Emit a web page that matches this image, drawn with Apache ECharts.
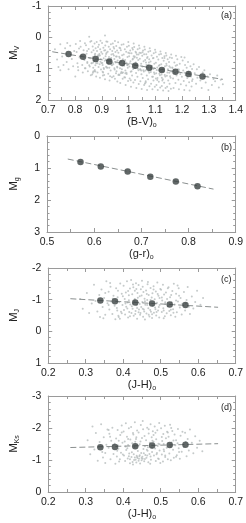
<!DOCTYPE html>
<html><head><meta charset="utf-8">
<script src="https://cdn.jsdelivr.net/npm/echarts@6/dist/echarts.min.js"></script>
<style>html,body{margin:0;padding:0;background:#fff}#c{width:246px;height:523px}</style>
</head><body><div id="c"></div>
<script>
// ---- data ----
const meanA_x = [0.776,0.830,0.877,0.928,0.976,1.025,1.077,1.124,1.175,1.224,1.276];
const meanA_y = [0.53,0.62,0.69,0.77,0.82,0.91,0.97,1.04,1.10,1.17,1.25];
const fitA = [[0.715,0.46],[1.352,1.34]];
const meanB_x = [0.571,0.614,0.671,0.719,0.773,0.819];
const meanB_y = [0.81,0.95,1.11,1.27,1.42,1.57];
const fitB = [[0.544,0.72],[0.853,1.66]];
const meanC_x = [0.339,0.378,0.432,0.477,0.524,0.566];
const meanC_y = [-0.97,-0.95,-0.91,-0.88,-0.85,-0.83];
const fitC = [[0.259,-1.03],[0.653,-0.76]];
const meanD_x = [0.339,0.378,0.432,0.477,0.524,0.566];
const meanD_y = [-1.40,-1.41,-1.43,-1.45,-1.47,-1.48];
const fitD = [[0.259,-1.39],[0.653,-1.51]];

const xTicksA = [0.7,1.4,0.1];
const yTicksA = [-1,2,1];
const xTicksB = [0.5,0.9,0.1];
const yTicksB = [0,3,1];
const xTicksC = [0.2,0.7,0.1];
const yTicksC = [-2,1,1];
const xTicksD = [0.2,0.7,0.1];
const yTicksD = [-3,0,1];

const cloudA = [
[0.725,0.38],[0.733,0.71],[0.738,0.95],[0.745,0.22],[0.752,0.61],[0.757,0.88],[0.763,0.35],[0.769,0.79],[0.776,1.02],[0.771,0.18],
[0.782,0.27],[0.788,0.69],[0.793,0.92],[0.797,0.44],[0.745,1.05],[0.801,1.25],[0.853,-0.02],[0.912,-0.06],
[0.803,0.21],[0.806,0.47],[0.809,0.83],[0.812,1.05],[0.815,0.36],[0.817,0.64],[0.819,0.12],[0.811,0.95],
[0.821,0.30],[0.824,0.58],[0.827,0.88],[0.829,1.12],[0.832,0.41],[0.835,0.72],[0.837,0.19],[0.839,0.99],
[0.841,0.25],[0.843,0.52],[0.846,0.79],[0.848,1.08],[0.851,0.37],[0.853,0.66],[0.855,0.93],[0.857,0.14],[0.859,1.21],[0.845,0.44],
[0.861,0.12],[0.862,0.48],[0.863,0.83],[0.864,1.19],[0.866,0.29],[0.867,0.63],[0.868,0.97],[0.869,0.41],[0.871,0.75],[0.872,1.08],[0.873,0.20],[0.874,0.56],[0.876,0.89],[0.877,0.35],[0.878,0.70],[0.879,1.25],[0.875,0.52],[0.868,0.80],
[0.881,0.15],[0.882,0.44],[0.883,0.78],[0.884,1.12],[0.886,0.31],[0.887,0.61],[0.888,0.95],[0.889,0.24],[0.891,0.53],[0.892,0.86],[0.893,1.29],[0.894,0.38],[0.896,0.69],[0.897,1.03],[0.898,0.47],[0.899,0.82],[0.885,0.58],[0.895,0.11],
[0.901,0.18],[0.902,0.52],[0.903,0.88],[0.904,1.22],[0.906,0.33],[0.907,0.67],[0.908,1.01],[0.909,0.42],[0.911,0.75],[0.912,1.34],[0.913,0.26],[0.914,0.60],[0.916,0.94],[0.917,0.13],[0.918,0.49],[0.919,0.81],[0.905,1.12],[0.915,0.71],
[0.921,0.14],[0.922,0.46],[0.923,0.79],[0.924,1.16],[0.926,0.30],[0.927,0.63],[0.928,0.97],[0.929,1.38],[0.931,0.38],[0.932,0.71],[0.933,1.06],[0.934,0.22],[0.936,0.55],[0.937,0.88],[0.938,1.27],[0.939,0.44],[0.925,0.84],[0.935,0.66],
[0.941,0.20],[0.942,0.53],[0.943,0.86],[0.944,1.24],[0.946,0.36],[0.947,0.69],[0.948,1.03],[0.949,0.12],[0.951,0.47],[0.952,0.80],[0.953,1.15],[0.954,0.28],[0.956,0.61],[0.957,0.94],[0.958,1.41],[0.959,0.74],[0.945,0.58],[0.955,1.08],
[0.961,0.16],[0.962,0.49],[0.963,0.84],[0.964,1.19],[0.966,0.33],[0.967,0.66],[0.968,0.99],[0.969,1.46],[0.971,0.41],[0.972,0.77],[0.973,1.11],[0.974,0.24],[0.976,0.57],[0.977,0.91],[0.978,1.32],[0.979,0.70],[0.965,0.62],[0.975,1.02],
[0.981,0.22],[0.982,0.55],[0.983,0.89],[0.984,1.27],[0.986,0.38],[0.987,0.72],[0.988,1.06],[0.989,1.52],[0.991,0.46],[0.992,0.81],[0.993,1.17],[0.994,0.30],[0.996,0.63],[0.997,0.97],[0.998,1.39],[0.999,0.15],[0.985,0.78],[0.995,0.88],
[1.001,0.27],[1.002,0.60],[1.003,0.93],[1.004,1.31],[1.006,0.42],[1.007,0.76],[1.008,1.10],[1.009,1.58],[1.011,0.51],[1.012,0.85],[1.013,1.22],[1.014,0.34],[1.016,0.68],[1.017,1.01],[1.018,1.44],[1.019,0.20],[1.005,0.83],[1.015,0.95],
[1.021,0.31],[1.022,0.64],[1.023,0.98],[1.024,1.36],[1.026,0.46],[1.027,0.80],[1.028,1.14],[1.029,1.62],[1.031,0.55],[1.032,0.89],[1.033,1.26],[1.034,0.38],[1.036,0.72],[1.037,1.05],[1.038,1.49],[1.039,0.26],[1.025,0.88],[1.035,1.00],
[1.041,0.35],[1.042,0.68],[1.043,1.02],[1.044,1.40],[1.046,0.50],[1.047,0.84],[1.048,1.18],[1.049,1.65],[1.051,0.59],[1.052,0.93],[1.053,1.30],[1.054,0.42],[1.056,0.76],[1.057,1.09],[1.058,1.52],[1.059,0.30],[1.045,0.91],[1.055,1.05],
[1.061,0.39],[1.062,0.72],[1.063,1.06],[1.064,1.44],[1.066,0.54],[1.067,0.88],[1.068,1.22],[1.069,1.68],[1.071,0.63],[1.072,0.97],[1.073,1.34],[1.074,0.46],[1.076,0.80],[1.077,1.13],[1.078,1.56],[1.079,0.35],[1.065,0.95],[1.075,1.08],
[1.081,0.44],[1.082,0.77],[1.083,1.11],[1.084,1.48],[1.086,0.58],[1.087,0.92],[1.088,1.26],[1.089,1.66],[1.091,0.67],[1.092,1.01],[1.093,1.38],[1.094,0.51],[1.096,0.84],[1.097,1.17],[1.098,1.58],[1.099,0.40],[1.085,1.00],[1.095,1.12],
[1.101,0.48],[1.102,0.81],[1.103,1.15],[1.104,1.52],[1.106,0.62],[1.107,0.96],[1.108,1.30],[1.109,1.68],[1.111,0.71],[1.112,1.05],[1.113,1.42],[1.114,0.55],[1.116,0.88],[1.117,1.21],[1.118,1.60],[1.119,0.45],[1.105,1.04],[1.115,1.16],
[1.121,0.53],[1.122,0.86],[1.123,1.19],[1.124,1.55],[1.126,0.66],[1.127,1.00],[1.128,1.34],[1.129,1.70],[1.131,0.75],[1.132,1.09],[1.133,1.45],[1.134,0.60],[1.136,0.92],[1.137,1.25],[1.138,1.62],[1.139,0.50],[1.125,1.08],[1.135,1.20],
[1.141,0.58],[1.142,0.90],[1.143,1.23],[1.144,1.58],[1.146,0.70],[1.147,1.04],[1.148,1.38],[1.149,1.71],[1.151,0.79],[1.152,1.13],[1.153,1.48],[1.154,0.64],[1.156,0.96],[1.157,1.29],[1.158,1.64],[1.159,0.55],[1.145,1.12],[1.155,1.24],
[1.162,0.66],[1.164,0.98],[1.166,1.31],[1.168,1.62],[1.171,0.80],[1.173,1.13],[1.175,1.46],[1.177,0.59],[1.179,1.22],[1.169,1.05],
[1.182,0.70],[1.184,1.02],[1.186,1.35],[1.188,1.66],[1.191,0.84],[1.193,1.17],[1.195,1.50],[1.197,0.63],[1.199,1.26],[1.189,1.09],
[1.202,0.74],[1.204,1.06],[1.206,1.39],[1.208,1.68],[1.211,0.88],[1.213,1.21],[1.215,1.54],[1.217,0.97],[1.219,1.30],[1.209,1.13],
[1.222,0.79],[1.224,1.10],[1.226,1.43],[1.228,1.70],[1.231,0.92],[1.233,1.25],[1.235,1.57],[1.237,1.01],[1.239,1.34],[1.229,1.18],
[1.243,0.86],[1.247,1.15],[1.252,1.48],[1.257,1.29],[1.255,1.02],[1.263,0.95],[1.268,1.38],[1.273,1.62],[1.277,1.12],
[1.283,1.05],[1.288,1.44],[1.294,1.25],[1.298,1.68],[1.304,1.18],[1.311,1.52],[1.317,1.33],[1.323,1.40],[1.331,1.22],[1.337,1.60],[1.344,1.35],[1.352,1.50],
[0.913,0.41],[1.047,1.06],[0.868,1.09],[1.132,0.99],[0.992,1.13],[0.944,0.31],[1.083,1.04],[0.837,0.99],[1.176,0.91],[1.011,1.08],
[0.957,0.42],[1.064,1.40],[0.889,0.57],[1.118,1.06],[0.976,1.14],[1.031,0.65],[0.902,0.82],[1.209,0.64],[0.853,0.89],[1.097,0.99],
[0.931,1.24],[1.152,0.92],[0.879,0.83],[1.004,0.51],[0.966,1.20],[1.073,0.89],[0.918,0.96],[1.041,0.49],[0.983,0.91],[1.126,1.38],
[0.861,0.83],[1.023,0.61],[0.949,1.32],[1.188,1.03],[0.907,0.98],[1.058,0.54],[0.996,0.89],[0.874,1.04],[1.141,0.84],[0.938,0.89],
[1.016,0.39],[1.102,1.31],[0.925,0.71],[0.987,1.28],[1.069,0.66],[0.846,0.82],[1.163,0.96],[0.962,1.20],[1.037,0.55],[0.895,0.78],
[1.091,1.26],[0.953,0.61],[1.008,1.37],[1.224,1.16],[0.884,0.83],[1.052,0.48],[0.971,1.15],[1.113,0.91],[0.921,0.97],[1.077,0.70],
[0.934,0.85],[1.093,0.66],[0.867,1.13],[1.015,0.71],[0.979,1.12],[1.147,1.02],[0.903,1.10],[1.028,0.49],[0.958,0.96],[1.181,0.88],
[0.941,0.82],[1.061,1.47],[0.893,0.58],[1.124,1.29],[0.999,0.49],[1.044,1.03],[0.916,0.53],[1.107,1.36],[0.969,0.35],[1.237,1.39],
[1.086,0.91],[0.876,1.09],[1.019,0.60],[0.947,0.99],[1.159,1.09],[0.988,1.15],[1.065,0.80],[0.909,1.20],[1.134,0.66],[0.857,0.67]
];

const cloudC = [
[0.285,-1.02],[0.292,-0.71],[0.303,-1.21],[0.309,-0.58],[0.316,-0.88],
[0.322,-1.47],[0.326,-0.96],[0.331,-0.63],[0.336,-1.15],[0.338,-0.45],
[0.342,-1.32],[0.345,-0.77],[0.349,-1.05],[0.352,-0.52],[0.355,-1.58],[0.358,-0.89],[0.347,-0.41],
[0.361,-1.25],[0.363,-0.69],[0.366,-1.41],[0.368,-0.94],[0.371,-0.55],[0.374,-1.12],[0.377,-0.81],[0.379,-0.38],[0.365,-1.53],
[0.381,-1.36],[0.383,-0.74],[0.385,-1.08],[0.387,-0.49],[0.389,-0.92],[0.392,-1.51],[0.394,-0.62],[0.396,-1.19],[0.398,-0.83],[0.391,-0.40],[0.386,-1.28],
[0.401,-1.44],[0.402,-0.67],[0.404,-1.02],[0.405,-0.53],[0.407,-1.23],[0.408,-0.78],[0.410,-1.58],[0.412,-0.91],[0.413,-0.44],[0.415,-1.14],[0.416,-0.61],[0.418,-1.35],[0.419,-0.85],[0.411,-0.72],
[0.421,-1.62],[0.422,-0.58],[0.424,-1.17],[0.425,-0.71],[0.427,-1.39],[0.428,-0.49],[0.430,-0.95],[0.431,-1.28],[0.433,-0.64],[0.434,-1.52],[0.436,-0.82],[0.437,-0.40],[0.439,-1.06],[0.426,-0.88],[0.432,-0.55],[0.438,-1.21],
[0.441,-1.46],[0.442,-0.69],[0.444,-1.11],[0.445,-0.52],[0.447,-1.33],[0.448,-0.77],[0.450,-1.60],[0.451,-0.93],[0.453,-0.46],[0.454,-1.24],[0.456,-0.63],[0.457,-1.03],[0.459,-0.84],[0.446,-0.58],[0.452,-1.41],[0.458,-0.37],
[0.461,-1.29],[0.462,-0.56],[0.464,-0.99],[0.465,-1.49],[0.467,-0.73],[0.468,-1.15],[0.470,-0.47],[0.471,-0.88],[0.473,-1.37],[0.474,-0.62],[0.476,-1.07],[0.477,-0.42],[0.479,-0.81],[0.466,-1.56],[0.472,-0.67],[0.478,-1.20],
[0.481,-1.42],[0.482,-0.59],[0.484,-1.01],[0.485,-0.75],[0.487,-1.26],[0.488,-0.50],[0.490,-0.90],[0.491,-1.54],[0.493,-0.66],[0.494,-1.12],[0.496,-0.44],[0.497,-0.83],[0.499,-1.34],[0.486,-0.70],[0.492,-1.18],
[0.501,-1.31],[0.503,-0.61],[0.504,-0.97],[0.506,-1.47],[0.507,-0.73],[0.509,-1.16],[0.511,-0.48],[0.512,-0.86],[0.514,-1.23],[0.516,-0.57],[0.517,-1.02],[0.519,-0.79],[0.508,-0.41],
[0.521,-1.39],[0.523,-0.64],[0.525,-1.08],[0.527,-0.51],[0.529,-0.92],[0.531,-1.27],[0.533,-0.70],[0.535,-1.50],[0.537,-0.85],[0.539,-0.46],[0.528,-1.15],
[0.541,-1.19],[0.543,-0.60],[0.546,-0.94],[0.548,-1.36],[0.551,-0.75],[0.553,-1.05],[0.556,-0.53],[0.558,-0.87],[0.545,-1.45],
[0.562,-1.24],[0.565,-0.66],[0.569,-0.99],[0.572,-1.40],[0.575,-0.78],[0.578,-0.55],
[0.583,-1.10],[0.587,-0.72],[0.592,-0.93],[0.597,-1.28],[0.606,-0.84],[0.613,-1.05],
[0.437,-0.74],[0.372,-1.03],[0.489,-0.61],[0.413,-1.27],[0.458,-0.95],[0.527,-0.68],[0.396,-0.57],[0.463,-1.18],[0.352,-1.21],[0.503,-1.07],
[0.444,-0.86],[0.418,-0.48],[0.481,-1.32],[0.549,-1.12],[0.431,-1.02],[0.468,-0.52],[0.384,-0.66],[0.512,-0.92],[0.426,-1.48],[0.495,-0.77],
[0.449,-1.13],[0.406,-0.88],[0.473,-0.99],[0.534,-0.59],[0.361,-0.83],[0.455,-0.69],[0.519,-1.36],[0.441,-0.60],[0.399,-1.11],[0.477,-0.54],
[0.567,-0.88],[0.423,-0.79],[0.508,-0.66],[0.464,-0.83],[0.435,-1.34],[0.388,-0.45],[0.497,-1.05],[0.452,-0.71],[0.541,-0.97],[0.415,-0.98]
];

const cloudD = [
[0.305,-1.62],[0.312,-1.18],[0.318,-2.05],[0.323,-1.33],[0.327,-1.84],[0.332,-0.98],[0.337,-1.56],
[0.341,-2.12],[0.344,-1.25],[0.348,-1.71],[0.352,-0.91],[0.355,-1.48],[0.358,-1.95],[0.346,-1.08],
[0.361,-1.38],[0.363,-1.82],[0.366,-1.02],[0.368,-1.60],[0.371,-2.01],[0.374,-1.19],[0.377,-1.51],[0.379,-0.88],[0.365,-1.73],
[0.381,-1.67],[0.383,-1.11],[0.385,-1.94],[0.387,-1.35],[0.389,-0.95],[0.392,-1.78],[0.394,-1.23],[0.396,-2.08],[0.398,-1.54],[0.391,-1.02],[0.386,-1.45],
[0.401,-1.89],[0.402,-1.14],[0.404,-1.58],[0.405,-0.97],[0.407,-2.15],[0.408,-1.31],[0.410,-1.73],[0.412,-1.05],[0.413,-1.47],[0.415,-1.99],[0.416,-1.20],[0.418,-0.90],[0.419,-1.64],[0.411,-1.37],
[0.421,-2.03],[0.422,-1.09],[0.424,-1.52],[0.425,-0.94],[0.427,-1.80],[0.428,-1.18],[0.430,-1.41],[0.431,-2.18],[0.433,-1.01],[0.434,-1.66],[0.436,-1.13],[0.437,-1.92],[0.439,-1.28],[0.426,-0.86],[0.432,-1.57],[0.438,-1.06],[0.429,-1.00],[0.435,-0.92],
[0.441,-1.86],[0.442,-1.04],[0.444,-1.49],[0.445,-0.89],[0.447,-2.09],[0.448,-1.22],[0.450,-1.69],[0.451,-1.10],[0.453,-1.96],[0.454,-1.34],[0.456,-0.96],[0.457,-1.75],[0.459,-1.16],[0.446,-1.58],[0.452,-2.22],[0.458,-1.43],[0.443,-1.12],[0.449,-0.99],
[0.461,-1.62],[0.462,-1.07],[0.464,-2.01],[0.465,-1.29],[0.467,-0.93],[0.468,-1.83],[0.470,-1.19],[0.471,-1.54],[0.473,-2.12],[0.474,-1.01],[0.476,-1.71],[0.477,-1.25],[0.479,-1.90],[0.466,-1.40],[0.472,-0.88],[0.478,-1.60],
[0.481,-1.78],[0.482,-1.14],[0.484,-2.05],[0.485,-1.36],[0.487,-0.97],[0.488,-1.65],[0.490,-1.22],[0.491,-1.93],[0.493,-1.05],[0.494,-1.51],[0.496,-2.16],[0.497,-1.30],[0.499,-0.91],[0.486,-1.85],[0.492,-1.44],
[0.501,-1.99],[0.503,-1.17],[0.504,-1.59],[0.506,-0.95],[0.507,-1.81],[0.509,-1.27],[0.511,-2.07],[0.512,-1.09],[0.514,-1.68],[0.516,-1.38],[0.517,-1.88],[0.519,-1.02],[0.508,-1.50],
[0.521,-1.73],[0.523,-1.20],[0.525,-2.10],[0.527,-0.99],[0.529,-1.55],[0.531,-1.91],[0.533,-1.32],[0.535,-1.07],[0.537,-1.80],[0.539,-1.46],[0.528,-2.00],
[0.541,-1.62],[0.543,-1.15],[0.546,-1.97],[0.548,-1.37],[0.551,-1.04],[0.553,-1.76],[0.556,-1.26],[0.558,-1.88],[0.545,-1.52],
[0.562,-1.41],[0.565,-1.85],[0.569,-1.12],[0.572,-1.66],[0.575,-1.30],[0.578,-1.95],
[0.583,-1.54],[0.587,-1.21],[0.592,-1.74],[0.597,-1.38],[0.604,-1.60],[0.611,-1.27],
[0.437,-1.09],[0.372,-1.47],[0.489,-1.18],[0.413,-1.66],[0.458,-1.03],[0.527,-1.41],[0.396,-1.86],[0.463,-1.32],[0.352,-1.22],[0.503,-1.72],
[0.444,-1.15],[0.418,-1.02],[0.481,-1.57],[0.549,-1.25],[0.431,-1.08],[0.468,-1.96],[0.384,-1.29],[0.512,-1.14],[0.426,-1.84],[0.495,-1.03],
[0.449,-1.06],[0.406,-1.42],[0.473,-1.11],[0.534,-1.61],[0.361,-1.94],[0.455,-1.21],[0.519,-1.86],[0.441,-0.98],[0.399,-1.17],[0.477,-1.38],
[0.567,-1.56],[0.423,-1.24],[0.508,-1.33],[0.464,-1.14],[0.435,-1.71],[0.388,-1.60],[0.497,-1.49],[0.452,-1.04],[0.541,-1.10],[0.415,-1.12]
];

// ---- chart ----
const FONT = 'Liberation Sans, Arial, sans-serif';
const panels = [
  {top:6,  h:94, xt:xTicksA, yt:yTicksA, yName:['M','V'], xName:'(B-V)', cloud:cloudA, mx:meanA_x, my:meanA_y, fit:fitA, tag:'(a)'},
  {top:136,h:96, xt:xTicksB, yt:yTicksB, yName:['M','g'], xName:'(g-r)', cloud:null,   mx:meanB_x, my:meanB_y, fit:fitB, tag:'(b)'},
  {top:268,h:95, xt:xTicksC, yt:yTicksC, yName:['M','J'], xName:'(J-H)', cloud:cloudC, mx:meanC_x, my:meanC_y, fit:fitC, tag:'(c)'},
  {top:396,h:96, xt:xTicksD, yt:yTicksD, yName:['M','Ks'], xName:'(J-H)', cloud:cloudD, mx:meanD_x, my:meanD_y, fit:fitD, tag:'(d)'}
];
const LEFT = 34, W = 203;
const frame = {show:true, onZero:false, lineStyle:{color:'#9a9a9a', width:1}};
const grid=[], xAxis=[], yAxis=[], series=[], graphic=[];
panels.forEach((p,i)=>{
  grid.push({left:LEFT, top:p.top, width:W, height:p.h});
  const xb = {gridIndex:i, type:'value', min:p.xt[0], max:p.xt[1], interval:p.xt[2], axisLine:frame,
    splitLine:{show:false}, axisTick:{inside:true, length:4, lineStyle:{color:'#9a9a9a'}},
    minorTick:{show:true, splitNumber:2, length:3, lineStyle:{color:'#9a9a9a'}}};
  xAxis.push(Object.assign({}, xb, {position:'bottom',
    axisLabel:{color:'#222', fontSize:10.5, fontFamily:FONT, margin:5},
    name:'{m|'+p.xName+'}{s|o}', nameLocation:'middle', nameGap:15,
    nameTextStyle:{color:'#222', fontFamily:FONT, rich:{m:{fontSize:11, fontFamily:FONT, color:'#222', lineHeight:13}, s:{fontSize:7, fontFamily:FONT, color:'#222', lineHeight:13, verticalAlign:'bottom', padding:[4,0,0,0]}}}}));
  xAxis.push(Object.assign({}, xb, {position:'top', axisLabel:{show:false}}));
  const yb = {gridIndex:i, type:'value', inverse:true, min:p.yt[0], max:p.yt[1], interval:p.yt[2], axisLine:frame,
    splitLine:{show:false}, axisTick:{inside:true, length:4, lineStyle:{color:'#9a9a9a'}},
    minorTick:{show:true, splitNumber:5, length:2.5, lineStyle:{color:'#9a9a9a'}}};
  yAxis.push(Object.assign({}, yb, {position:'left',
    axisLabel:{color:'#222', fontSize:10.5, fontFamily:FONT, margin:7},
    name:'{m|'+p.yName[0]+'}{s|'+p.yName[1]+'}', nameLocation:'middle', nameGap:26, nameRotate:90,
    nameTextStyle:{color:'#222', fontFamily:FONT, rich:{m:{fontSize:11.5, fontFamily:FONT, color:'#222', lineHeight:14}, s:{fontSize:7, fontFamily:FONT, color:'#222', lineHeight:14, verticalAlign:'bottom', padding:[4,0,0,0]}}}}));
  yAxis.push(Object.assign({}, yb, {position:'right', axisLabel:{show:false}}));
  const xi = i*2, yi = i*2;
  if (p.cloud) series.push({type:'scatter', xAxisIndex:xi, yAxisIndex:yi, data:p.cloud, symbolSize:2,
    itemStyle:{color:'#b7bdbd'}, silent:true, animation:false, z:1});
  series.push({type:'line', xAxisIndex:xi, yAxisIndex:yi, data:p.fit, showSymbol:false, symbol:'none',
    lineStyle:{color:'#8a8f8f', width:1, type:[6,3]}, animation:false, z:2});
  series.push({type:'scatter', xAxisIndex:xi, yAxisIndex:yi, data:p.mx.map((x,k)=>[x,p.my[k]]), symbolSize:6.5,
    itemStyle:{color:'#3a4141'}, animation:false, z:3});
  graphic.push({type:'text', left:221, top:p.top+ (i===0?5:7), style:{text:p.tag, fontSize:9, fontFamily:FONT, fill:'#222'}});
});
const chart = echarts.init(document.getElementById('c'), null, {renderer:'canvas'});
chart.setOption({animation:false, grid, xAxis, yAxis, series, graphic});
</script></body></html>
